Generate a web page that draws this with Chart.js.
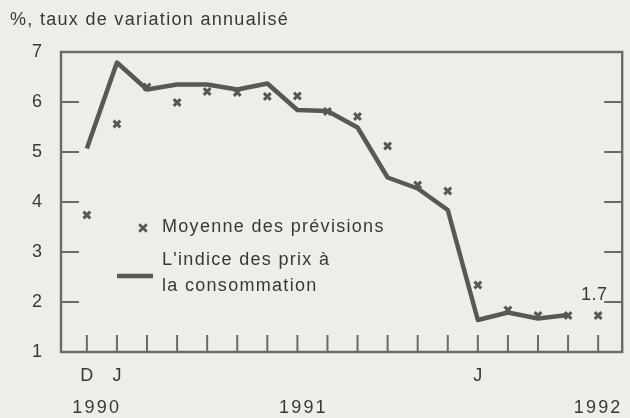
<!DOCTYPE html>
<html>
<head>
<meta charset="utf-8">
<script src="https://cdn.jsdelivr.net/npm/chart.js@4/dist/chart.umd.min.js"></script>
<style>
html,body{margin:0;padding:0;background:#eeede9;}
#wrap{width:630px;height:418px;}
</style>
</head>
<body>
<div id="wrap"><canvas id="c" width="630" height="418"></canvas></div>
<script>
// ---- data ----
const monthLabels = ['D','J','','','','','','','','','','','','J','','','',''];
const cpi = [5.07,6.79,6.25,6.35,6.35,6.25,6.37,5.84,5.82,5.49,4.49,4.27,3.84,1.64,1.79,1.67,1.74];
const forecast = [3.74,5.56,6.30,5.99,6.21,6.19,6.11,6.12,5.81,5.71,5.12,4.34,4.22,2.34,1.84,1.73,1.73,1.73];
const yearLabels = ['1990','1991','1992'];
const yearAt = [0.33,7.2,17];
const yTicks = [1,2,3,4,5,6,7];
const titleText = '%, taux de variation annualisé';
const legendForecast = 'Moyenne des prévisions';
const legendCpi = ["L'indice des prix à", 'la consommation'];
const lastNote = '1.7';

const INK = '#383835';
const LINE = '#595953';
const FRAME = '#6b6b66';
const FONT = '"Liberation Sans", Arial, sans-serif';

const cpiPts = cpi.map((v,i)=>({x:i,y:v}));
const fcPts = forecast.map((v,i)=>({x:i,y:v}));

const deco = {
  id:'deco',
  beforeDraw(chart){
    const c = chart.ctx;
    c.save();
    c.fillStyle = '#eeede9';
    c.fillRect(0,0,chart.width,chart.height);
    c.restore();
  },
  afterDraw(chart){
    const c = chart.ctx, a = chart.chartArea;
    const xs = chart.scales.x, ys = chart.scales.y;
    c.save();
    // frame
    c.strokeStyle = FRAME; c.lineWidth = 2.4;
    c.strokeRect(a.left, a.top, a.right-a.left, a.bottom-a.top);
    // inward ticks
    c.lineWidth = 2;
    yTicks.slice(1,-1).forEach(v=>{
      const y = ys.getPixelForValue(v);
      c.beginPath(); c.moveTo(a.left, y); c.lineTo(a.left+18, y); c.stroke();
      c.beginPath(); c.moveTo(a.right, y); c.lineTo(a.right-18, y); c.stroke();
    });
    monthLabels.forEach((_,i)=>{
      const x = xs.getPixelForValue(i);
      c.beginPath(); c.moveTo(x, a.bottom); c.lineTo(x, a.bottom-17); c.stroke();
    });
    // text
    c.fillStyle = INK;
    c.font = '18px ' + FONT;
    c.textBaseline = 'middle';
    c.letterSpacing = '1.3px';
    c.textAlign = 'left';
    c.fillText(titleText, 10, 20);
    // year labels
    c.textAlign = 'center';
    c.letterSpacing = '2.2px';
    yearLabels.forEach((t,k)=>{
      c.fillText(t, xs.getPixelForValue(yearAt[k]), 408);
    });
    // legend
    c.letterSpacing = '1.3px';
    c.textAlign = 'left';
    const mx = 143, my = 228, r = 3.8;
    c.strokeStyle = LINE; c.lineWidth = 2.8;
    c.beginPath(); c.moveTo(mx-r,my-r); c.lineTo(mx+r,my+r); c.moveTo(mx+r,my-r); c.lineTo(mx-r,my+r); c.stroke();
    c.fillText(legendForecast, 162, 227);
    c.lineWidth = 4.5;
    c.beginPath(); c.moveTo(117, 276); c.lineTo(153, 276); c.stroke();
    c.fillText(legendCpi[0], 162, 260);
    c.fillText(legendCpi[1], 162, 286);
    // note near last forecast
    c.textAlign = 'center';
    c.letterSpacing = '0.5px';
    const lx = xs.getPixelForValue(forecast.length-1);
    const ly = ys.getPixelForValue(forecast[forecast.length-1]);
    c.fillText(lastNote, lx-4, ly-20);
    c.restore();
  }
};

new Chart(document.getElementById('c'), {
  type:'line',
  data:{
    datasets:[
      {label:'CPI', data:cpiPts, borderColor:LINE, borderWidth:4.5, pointRadius:0, tension:0, fill:false, order:1, borderJoinStyle:'round', borderCapStyle:'butt'},
      {label:'Forecast', data:fcPts, showLine:false, pointStyle:'crossRot', pointRadius:4.8, borderColor:LINE, borderWidth:3, pointBorderColor:LINE, order:2}
    ]
  },
  options:{
    responsive:false,
    animation:false,
    devicePixelRatio:1,
    layout:{padding:{top:52,right:3,left:0,bottom:0}},
    plugins:{legend:{display:false}, tooltip:{enabled:false}, title:{display:false}},
    scales:{
      x:{
        type:'linear', min:-0.86, max:17.8,
        grid:{display:false, drawTicks:false},
        border:{display:false},
        afterBuildTicks:(s)=>{ s.ticks = monthLabels.map((_,i)=>({value:i})); },
        afterFit:(s)=>{ s.height = 66; },
        ticks:{autoSkip:false, maxRotation:0, padding:13, color:INK, font:{family:FONT, size:18},
          callback:(v)=> monthLabels[v] !== undefined ? monthLabels[v] : ''}
      },
      y:{
        min:1, max:7,
        grid:{display:false, drawTicks:false},
        border:{display:false},
        afterBuildTicks:(s)=>{ s.ticks = yTicks.map(v=>({value:v})); },
        afterFit:(s)=>{ s.width = 61; },
        ticks:{padding:19, color:INK, font:{family:FONT, size:18}}
      }
    }
  },
  plugins:[deco]
});
</script>
</body>
</html>
